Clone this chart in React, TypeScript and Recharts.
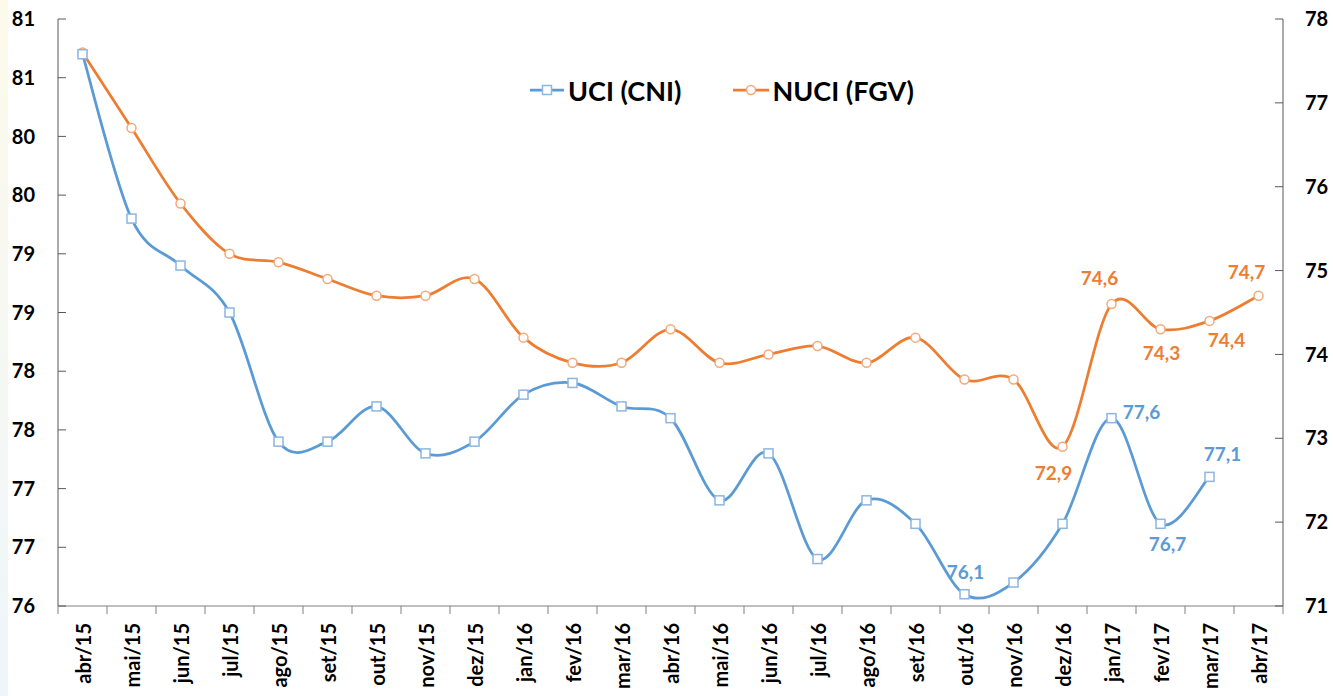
import React from "react";
import { LineChart, Line, XAxis, YAxis, LabelList } from "recharts";

const months = [
  "abr/15", "mai/15", "jun/15", "jul/15", "ago/15", "set/15", "out/15", "nov/15", "dez/15",
  "jan/16", "fev/16", "mar/16", "abr/16", "mai/16", "jun/16", "jul/16", "ago/16", "set/16",
  "out/16", "nov/16", "dez/16", "jan/17", "fev/17", "mar/17", "abr/17",
];

// UCI (CNI) - eixo da esquerda
const uciCni = [
  80.7, 79.3, 78.9, 78.5, 77.4, 77.4, 77.7, 77.3, 77.4, 77.8, 77.9, 77.7, 77.6,
  76.9, 77.3, 76.4, 76.9, 76.7, 76.1, 76.2, 76.7, 77.6, 76.7, 77.1, null,
];

// NUCI (FGV) - eixo da direita
const nuciFgv = [
  77.6, 76.7, 75.8, 75.2, 75.1, 74.9, 74.7, 74.7, 74.9, 74.2, 73.9, 73.9, 74.3,
  73.9, 74.0, 74.1, 73.9, 74.2, 73.7, 73.7, 72.9, 74.6, 74.3, 74.4, 74.7,
];

const leftTicks = [76, 76.5, 77, 77.5, 78, 78.5, 79, 79.5, 80, 80.5, 81];
const rightTicks = [71, 72, 73, 74, 75, 76, 77, 78];

const data = months.map((m, i) => ({ month: m, uci: uciCni[i], nuci: nuciFgv[i] }));

const W = 1333;
const H = 696;
const LEFT_W = 58;
const RIGHT_W = 50;
const TOP = 19;
const X_H = 90;
const BAND = (W - LEFT_W - RIGHT_W) / months.length;

const BLUE = "#5B9BD5";
const ORANGE = "#ED7D31";
const AXIS = "#808080";
const FONT = "Lato, 'Open Sans', sans-serif";

// which points carry a value label, and where (dx, dy from the point)
const blueLabels: Record<number, [number, number]> = {
  18: [1, -23], 21: [30, -7], 22: [7, 20], 23: [13, -23],
};
const orangeLabels: Record<number, [number, number]> = {
  20: [-9, 26], 21: [-12, -27], 22: [1, 23], 23: [17, 19], 24: [-12, -24],
};

// Excel-style smoothed line (Catmull-Rom through every point)
const excelSmooth = (context: any) => {
  let pts: number[][] = [];
  return {
    areaStart() {},
    areaEnd() {},
    lineStart() { pts = []; },
    point(x: number, y: number) { pts.push([+x, +y]); },
    lineEnd() {
      if (!pts.length) return;
      context.moveTo(pts[0][0], pts[0][1]);
      for (let i = 0; i < pts.length - 1; i++) {
        const p0 = pts[Math.max(i - 1, 0)];
        const p1 = pts[i];
        const p2 = pts[i + 1];
        const p3 = pts[Math.min(i + 2, pts.length - 1)];
        context.bezierCurveTo(
          p1[0] + (p2[0] - p0[0]) / 6, p1[1] + (p2[1] - p0[1]) / 6,
          p2[0] - (p3[0] - p1[0]) / 6, p2[1] - (p3[1] - p1[1]) / 6,
          p2[0], p2[1]
        );
      }
    },
  };
};

const fmt = (v: number) => v.toFixed(1).replace(".", ",");

const SquareDot = (props: any) => {
  const { cx, cy, index } = props;
  if (cx == null || cy == null) return <g key={`s${index}`} />;
  return (
    <rect key={`s${index}`} x={cx - 4.5} y={cy - 4.5} width={9} height={9}
      fill="#fff" stroke="#8DB6E2" strokeWidth={1.5} />
  );
};

const CircleDot = (props: any) => {
  const { cx, cy, index } = props;
  if (cx == null || cy == null) return <g key={`c${index}`} />;
  return <circle key={`c${index}`} cx={cx} cy={cy} r={4.5} fill="#fff" stroke="#F4A97A" strokeWidth={1.5} />;
};

const makeLabel = (color: string, place: Record<number, [number, number]>) => (props: any) => {
  const off = place[props.index];
  if (!off || props.value == null) return null;
  const vb = props.viewBox || {};
  const x = props.x ?? vb.x;
  const y = props.y ?? vb.y;
  return (
    <text x={x + off[0]} y={y + off[1]} textAnchor="middle" dominantBaseline="central"
      fill={color} fontSize={19} fontWeight={700} fontFamily={FONT}>
      {fmt(props.value)}
    </text>
  );
};

const XTick = (props: any) => {
  const { x, y, payload, index } = props;
  const half = BAND / 2;
  const ty = y + 17;
  return (
    <g>
      {index === 0 && <line x1={x - half} x2={x - half} y1={y} y2={y + 8} stroke={AXIS} />}
      <line x1={x + half} x2={x + half} y1={y} y2={y + 8} stroke={AXIS} />
      <text x={x} y={ty} transform={`rotate(-90 ${x} ${ty})`} textAnchor="end"
        dominantBaseline="central" fill="#000" fontSize={20} fontWeight={700} fontFamily={FONT}>
        {payload.value}
      </text>
    </g>
  );
};

const tickStyle = { fill: "#000", fontSize: 20, fontWeight: 700, fontFamily: FONT };

export default function App() {
  return (
    <div style={{ position: "absolute", left: 0, top: 0, width: W, height: H, background: "#fff", fontFamily: FONT }}>
      <div style={{ position: "absolute", left: 0, top: 0, width: 8, height: H, background: "linear-gradient(#FDFAEA, #EEF5FB)" }} />
      <LineChart width={W} height={H} data={data} margin={{ top: TOP, right: 0, bottom: 0, left: 0 }}>
        <XAxis dataKey="month" height={X_H} interval={0} tickLine={false} tickSize={0} tickMargin={0}
          padding={{ left: BAND / 2, right: BAND / 2 }} stroke={AXIS} tick={<XTick />} />
        <YAxis yAxisId="left" width={LEFT_W} domain={[76, 81]} ticks={leftTicks} interval={0}
          tickFormatter={(v: number) => String(Math.round(v))} stroke="#595959"
          tickSize={-8} tickMargin={31} tick={tickStyle} allowDataOverflow />
        <YAxis yAxisId="right" orientation="right" width={RIGHT_W} domain={[71, 78]} ticks={rightTicks}
          interval={0} stroke="#595959" tickSize={-8} tickMargin={30} tick={tickStyle} allowDataOverflow />
        <Line yAxisId="right" dataKey="nuci" type={excelSmooth as any} stroke={ORANGE} strokeWidth={2.75}
          dot={CircleDot} activeDot={false} isAnimationActive={false}>
          <LabelList content={makeLabel(ORANGE, orangeLabels)} />
        </Line>
        <Line yAxisId="left" dataKey="uci" type={excelSmooth as any} stroke={BLUE} strokeWidth={2.75}
          dot={SquareDot} activeDot={false} isAnimationActive={false}>
          <LabelList content={makeLabel(BLUE, blueLabels)} />
        </Line>
      </LineChart>
      <div style={{ position: "absolute", left: 530, top: 74, height: 32, display: "flex", alignItems: "center",
        fontSize: 27, fontWeight: 700, color: "#000", whiteSpace: "nowrap" }}>
        <svg width={34} height={12} style={{ marginRight: 4 }}>
          <line x1={0} x2={34} y1={6} y2={6} stroke={BLUE} strokeWidth={2.75} />
          <rect x={12.5} y={1.5} width={9} height={9} fill="#fff" stroke="#8DB6E2" strokeWidth={1.5} />
        </svg>
        <span>UCI (CNI)</span>
        <svg width={36} height={12} style={{ marginLeft: 52, marginRight: 3 }}>
          <line x1={0} x2={36} y1={6} y2={6} stroke={ORANGE} strokeWidth={2.75} />
          <circle cx={18} cy={6} r={4.5} fill="#fff" stroke="#F4A97A" strokeWidth={1.5} />
        </svg>
        <span>NUCI (FGV)</span>
      </div>
    </div>
  );
}
